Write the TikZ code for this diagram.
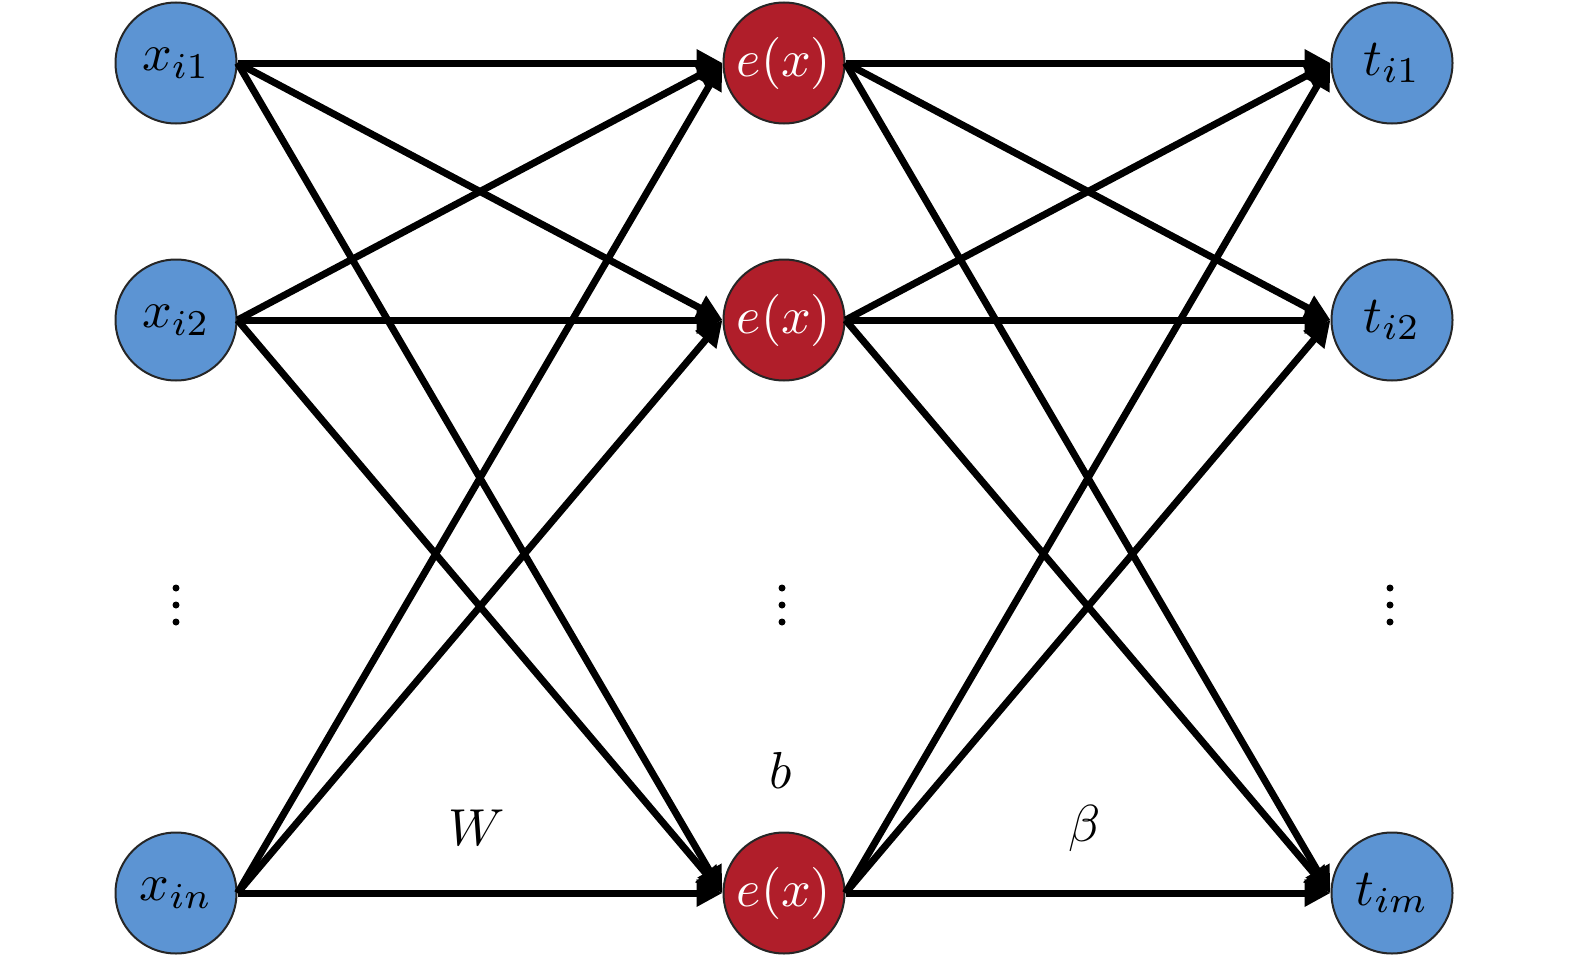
\documentclass[tikz,border=0pt]{standalone}
\usepackage{graphicx}
\usetikzlibrary{arrows.meta}
\definecolor{nodeblue}{RGB}{92,148,211}
\definecolor{nodered}{RGB}{176,30,42}
\newcommand{\symtxt}[1]{\scalebox{5.2}{$#1$}}
\tikzset{
  unit/.style={circle,minimum size=121pt,inner sep=0pt,draw=black!85,line width=2pt},
  innode/.style={unit,fill=nodeblue},
  hidnode/.style={unit,fill=nodered,text=white},
  conn/.style={line width=7pt,-{Triangle[length=26pt,width=26pt]}},
  vdot/.style={circle,fill=black,inner sep=0pt,minimum size=7pt}
}
\begin{document}
\begin{tikzpicture}[x=1pt,y=1pt,yscale=-1]
        \useasboundingbox (0,0) rectangle (1575,961);

        % input layer
        \node [innode] (x1) at (176,63) {\symtxt{x_{i1}}};
        \node [innode] (x2) at (176,320) {\symtxt{x_{i2}}};
        \node [innode] (x3) at (176,893) {\symtxt{x_{in}}};
        % hidden layer
        \node [hidnode] (h1) at (784,63) {\symtxt{e(x)}};
        \node [hidnode] (h2) at (784,320) {\symtxt{e(x)}};
        \node [hidnode] (h3) at (784,893) {\symtxt{e(x)}};
        % output layer
        \node [innode] (t1) at (1392,63) {\symtxt{t_{i1}}};
        \node [innode] (t2) at (1392,320) {\symtxt{t_{i2}}};
        \node [innode] (t3) at (1392,893) {\symtxt{t_{im}}};

        % connections
        \foreach \i in {1,2,3}
          \foreach \j in {1,2,3} {
            \draw [conn] (x\i.east) -- (h\j.west);
            \draw [conn] (h\i.east) -- (t\j.west);
          }

        % dots
        \foreach \c in {176,782,1390}
          \foreach \d in {588,605,622}
            \node [vdot] (d\c-\d) at (\c,\d) {};

        % Text Node
        \node (b) at (781,770) {\symtxt{b}};
        % Text Node
        \node (W) at (477,828) {\symtxt{W}};
        % Text Node
        \node (beta) at (1085,828) {\symtxt{\beta}};
\end{tikzpicture}
\end{document}
